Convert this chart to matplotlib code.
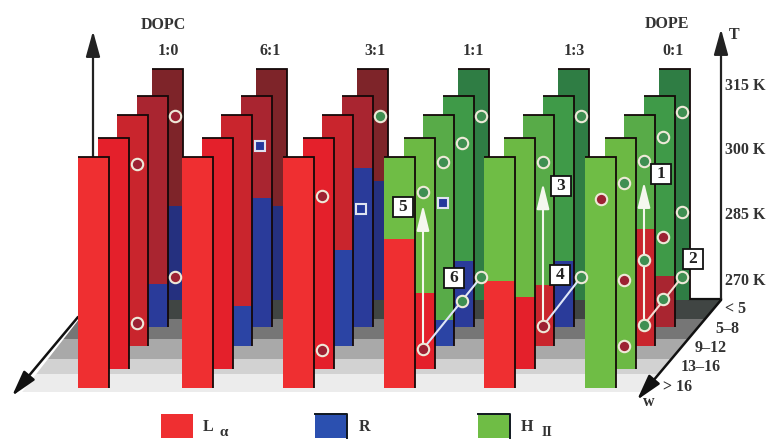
import matplotlib
matplotlib.use("Agg")
import matplotlib.pyplot as plt
from matplotlib.patches import Polygon, Rectangle

plt.rcParams['font.family'] = ['Liberation Serif', 'DejaVu Serif']
plt.rcParams['font.weight'] = 'bold'

# data
ratios = ["1:0", "6:1", "3:1", "1:1", "1:3", "0:1"]
water_labels = ["> 16", "13\u201316", "9\u201312", "5\u20138", "< 5"]   # front to back
temp_ticks = [270, 285, 300, 315]
t_min = 265.6
t_max = 319.0

# phase at the top of each bar (one per ratio)
upper_phase = ["L", "L", "L", "H", "H", "H"]
# lower phase per ratio, per row (front to back), None = bar is one phase
lower_phase = [
    [None, None, None, "R", "R"],
    [None, None, "R", "R", "R"],
    [None, None, "R", "R", "R"],
    ["L", "L", "R", "R", None],
    ["L", "L", "L", "R", None],
    [None, None, "L", "L", None],
]
# temperature where lower phase gives way to upper phase
boundary_t = [
    [0, 0, 0, 275.5, 287.3],
    [0, 0, 274.8, 295.4, 287.3],
    [0, 0, 287.8, 302.3, 293.1],
    [300.0, 283.2, 271.6, 280.8, 0],
    [290.3, 282.2, 279.7, 280.8, 0],
    [0, 0, 292.6, 277.4, 0],
]

# measured samples: ratio index, row, temperature, phase
mark_ratio = [0, 0, 0, 0, 1, 2, 2, 2, 2,
              3, 3, 3, 3, 3, 3, 3, 3,
              4, 4, 4, 4,
              5, 5, 5, 5, 5, 5, 5, 5, 5, 5, 5, 5, 5]
mark_row = [2, 2, 4, 4, 3, 1, 1, 3, 4,
            1, 2, 3, 4, 1, 3, 4, 2,
            2, 4, 2, 4,
            0, 1, 1, 1, 2, 2, 2, 3, 3, 3, 4, 4, 4]
mark_t = [307.6, 271, 308.2, 271, 307.4, 305.5, 270, 292.9, 308.2,
          306.5, 308, 308.2, 308.2, 270.2, 271.6, 270.9, 298.6,
          308, 308.2, 270.2, 270.9,
          309.2, 308.6, 286.2, 270.9, 308.3, 285.5, 270.5, 309.5, 286.4, 272, 309, 286, 270.9]
mark_phase = ["L", "L", "L", "L", "R", "L", "L", "R", "H",
              "H", "H", "H", "H", "L", "H", "H", "R",
              "H", "H", "L", "H",
              "L", "H", "L", "L", "H", "H", "H", "H", "L", "H", "H", "H", "H"]

# transitions shown by white arrows: ratio, row, from T, to T
heat_ratio = [3, 4, 5]
heat_row = [1, 2, 2]
heat_from = [270.2, 270.2, 270.5]
heat_to = [303.5, 303.2, 303.5]
# transitions by dehydration: ratio, from row, from T, to T on the back row
dry_ratio = [3, 4, 5]
dry_from_row = [1, 2, 2]
dry_from_t = [270.2, 270.2, 270.5]
dry_to_t = [270.9, 270.9, 270.9]
dry_color = ["#dfe6f7", "#dfe6f7", "#f6dcd2"]

box_text = ["5", "6", "3", "4", "1", "2"]
box_x = [403, 454, 561, 560, 661, 693]
box_y = [207, 278, 186, 275, 174, 259]

# layout in pixels
col_x0 = [78, 182, 283, 384, 484, 585]
row_dx = [0, 20, 39, 59, 74]
row_base = [388, 369, 346, 327, 300]
mark_dx = [16, 39, 59, 78, 97]
bar_w = 31
px_per_k = 4.33

shades = {
    "L": ["#ef2f31", "#e4202b", "#c9252d", "#a92530", "#7e2429"],
    "R": ["#2f49a8", "#2c45a6", "#2b44a4", "#2a3b9a", "#25307f"],
    "H": ["#6fbd45", "#6cb944", "#58ab48", "#3f9a48", "#2f7d44"],
}
dot_colors = {"L": "#9c2233", "R": "#24389c", "H": "#3f8f52"}
floor_colors = ["#ececec", "#d2d2d2", "#a9a9a9", "#767676", "#404543"]
floor_y = [392, 374, 359, 339, 319, 300]
text_c = '#333333'
fs = 11.5


def t_to_y(t, row):
    return row_base[row] - (t - t_min) * px_per_k


def floor_edges(y):
    # left and right x of the floor at pixel height y
    return 94 - (y - 300) * 0.78, 721 - (y - 300) * 0.85


def arrow(x0, y0, x1, y1, color, lw, z, hw=0.36, hl=1.3):
    ax.annotate("", xy=(x1, y1), xytext=(x0, y0),
                arrowprops=dict(arrowstyle='-|>,head_width=%g,head_length=%g' % (hw, hl),
                                color=color, lw=lw, shrinkA=0, shrinkB=0, mutation_scale=12),
                zorder=z)


fig = plt.figure(figsize=(7.7, 4.42), dpi=100)
ax = fig.add_axes([0, 0, 1, 1])
ax.set_xlim(0, 770)
ax.set_ylim(442, 0)
ax.axis('off')

# floor bands
for k, c in enumerate(floor_colors):
    y0, y1 = floor_y[k], floor_y[k + 1]
    l0, r0 = floor_edges(y0)
    l1, r1 = floor_edges(y1)
    ax.add_patch(Polygon([(l0, y0), (r0, y0), (r1, y1), (l1, y1)], color=c, lw=0, zorder=1))

# back wall on the right and axis arrows
ax.plot([689, 721], [299, 299], color='#111111', lw=1.6, zorder=2)
arrow(721, 300, 721, 29, '#222222', 1.6, 2)
arrow(93, 157, 93, 31, '#222222', 1.6, 2)
arrow(78, 317, 12, 396, '#111111', 1.8, 2)

# bars, left to right and back to front
z = 3
for i in range(len(ratios)):
    for row in [4, 3, 2, 1, 0]:
        x = col_x0[i] + row_dx[row]
        base = row_base[row]
        top = t_to_y(t_max, row)
        up = shades[upper_phase[i]][row]
        low = lower_phase[i][row]
        ax.bar(x, top - base, bar_w, bottom=base, align='edge', color=up, lw=0, zorder=z)
        if low is not None:
            yb = t_to_y(boundary_t[i][row], row)
            ax.bar(x, yb - base, bar_w, bottom=base, align='edge', color=shades[low][row], lw=0, zorder=z + 0.1)
        ax.plot([x, x + bar_w, x + bar_w], [top, top, base], color='#140808', lw=1.3,
                solid_capstyle='butt', solid_joinstyle='miter', zorder=z + 0.2)
        z += 1

# arrows for the transitions
for i in range(len(heat_ratio)):
    x = col_x0[heat_ratio[i]] + mark_dx[heat_row[i]]
    arrow(x, t_to_y(heat_from[i], heat_row[i]), x, t_to_y(heat_to[i], heat_row[i]),
          '#f4f7ee', 1.5, z + 1, hw=0.32, hl=1.3)
    x1 = col_x0[dry_ratio[i]] + mark_dx[4]
    ax.plot([col_x0[dry_ratio[i]] + mark_dx[dry_from_row[i]], x1],
            [t_to_y(dry_from_t[i], dry_from_row[i]), t_to_y(dry_to_t[i], 4)],
            color=dry_color[i], lw=1.5, zorder=z + 1)

# sample markers
for i in range(len(mark_ratio)):
    x = col_x0[mark_ratio[i]] + mark_dx[mark_row[i]]
    y = t_to_y(mark_t[i], mark_row[i])
    c = dot_colors[mark_phase[i]]
    if mark_phase[i] == "R":
        ax.plot(x, y, 's', ms=7.5, mfc=c, mec='#dfe3f0', mew=1.5, zorder=z + 2)
    else:
        ax.plot(x, y, 'o', ms=8.2, mfc=c, mec='#eee9d8', mew=1.5, zorder=z + 2)

# numbered boxes
for i in range(len(box_text)):
    ax.plot(box_x[i], box_y[i], 's', ms=14, mfc='white', mec='#111111', mew=1.3, zorder=z + 3)
    ax.text(box_x[i], box_y[i], box_text[i], ha='center', va='center', fontsize=12.5,
            color='#222222', zorder=z + 4)

# labels
label_x = [168, 270, 375, 473, 574, 673]
for i in range(len(ratios)):
    ax.text(label_x[i], 51, ratios[i], ha='center', va='center', fontsize=fs, color=text_c)
ax.text(163, 25, "DOPC", ha='center', va='center', fontsize=fs, color=text_c)
ax.text(667, 24, "DOPE", ha='center', va='center', fontsize=fs, color=text_c)
ax.text(734, 35, "T", ha='center', va='center', fontsize=fs, color=text_c)
tick_y = [281, 215, 150, 86]
for i in range(len(temp_ticks)):
    ax.text(725, tick_y[i], "%d K" % temp_ticks[i], ha='left', va='center', fontsize=fs, color=text_c)
water_x = [678, 701, 711, 727, 736]
water_y = [387, 367, 348, 329, 309]
for i in range(len(water_labels)):
    ax.text(water_x[i], water_y[i], water_labels[i], ha='center', va='center', fontsize=fs, color=text_c)
ax.text(649, 402, "w", ha='center', va='center', fontsize=fs, color=text_c)
arrow(721, 300, 637, 400, '#111111', 1.8, z + 3)

# legend
legend_x = [161, 315, 478]
legend_phase = ["L", "R", "H"]
legend_c = ["#ef2f31", "#2b50b0", "#6fbd45"]
for i in range(3):
    ax.add_patch(Rectangle((legend_x[i], 414), 32, 24, fc=legend_c[i], ec='none', zorder=2))
    if legend_phase[i] != "L":
        ax.plot([legend_x[i], legend_x[i] + 32, legend_x[i] + 32], [414, 414, 438], color='#101820', lw=1.4, zorder=3)
ax.text(208, 427, "L", ha='center', va='center', fontsize=fs, color=text_c)
ax.text(224, 432, "\u03b1", ha='center', va='center', fontsize=11, color=text_c)
ax.text(364, 427, "R", ha='center', va='center', fontsize=fs, color=text_c)
ax.text(527, 427, "H", ha='center', va='center', fontsize=fs, color=text_c)
ax.text(547, 432, "II", ha='center', va='center', fontsize=10, color=text_c)

fig.savefig("out.png", dpi=100)
